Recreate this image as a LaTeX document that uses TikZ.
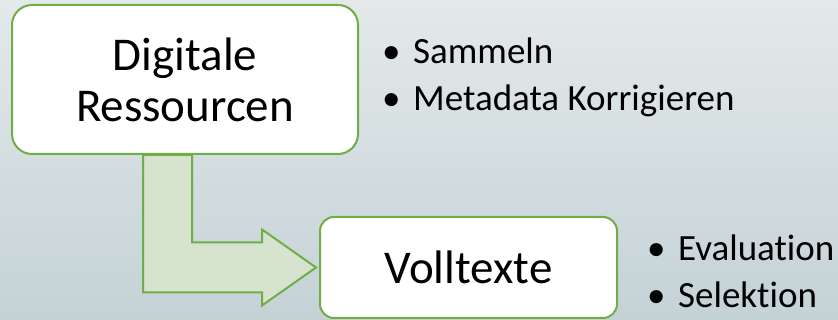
\documentclass[tikz,border=0pt]{standalone}
\usepackage{fontspec}
\setmainfont{Carlito}[Ligatures=NoCommon]
\usetikzlibrary{calc}
\definecolor{bgtop}{HTML}{E4E9EA}
\definecolor{bgbot}{HTML}{C4D2D6}
\definecolor{grn}{HTML}{70AD47}
\definecolor{lgrn}{HTML}{D6E4CF}
\newcommand{\bulitem}[1]{\makebox[27pt][l]{\hspace{-4pt}•}#1}
\tikzset{
  box/.style={draw=grn, line width=2pt, fill=white, inner sep=0pt, align=center,
    font=\fontsize{47}{51}\selectfont},
  bul/.style={anchor=base west, inner sep=0pt, font=\fontsize{37}{44}\selectfont},
  bentarrow/.style={draw=grn, line width=2pt, fill=lgrn, line join=miter},
}
\begin{document}
\begin{tikzpicture}[x=1pt,y=-1pt]
\shade[top color=bgtop, bottom color=bgbot] (0,0) rectangle (838,320);
\useasboundingbox (0,0) rectangle (838,320);
\node[box, rounded corners=20pt, minimum width=346pt, minimum height=149pt] (box1) at (185,79.5) {Digitale\\Ressourcen};
\node[box, rounded corners=14pt, minimum width=297pt, minimum height=101pt] (box2) at (468.5,267.5) {Volltexte};
\coordinate (s) at ([xshift=132pt]box1.south west);
\coordinate (tip) at ([xshift=-3pt]box2.west);
\draw[bentarrow] (s) |- ([shift={(-54,25)}]tip) -- ++(0,13) -- (tip) -- ++(-54,-38) -- ++(0,13) -| ([xshift=49pt]s) -- cycle;
\node[bul] (b1) at (386,64) {\bulitem{Sammeln}};
\node[bul] (b2) at (386,111) {\bulitem{Metadata Korrigieren}};
\node[bul] (b3) at (651,261) {\bulitem{Evaluation}};
\node[bul] (b4) at (651,308) {\bulitem{Selektion}};
\end{tikzpicture}
\end{document}
